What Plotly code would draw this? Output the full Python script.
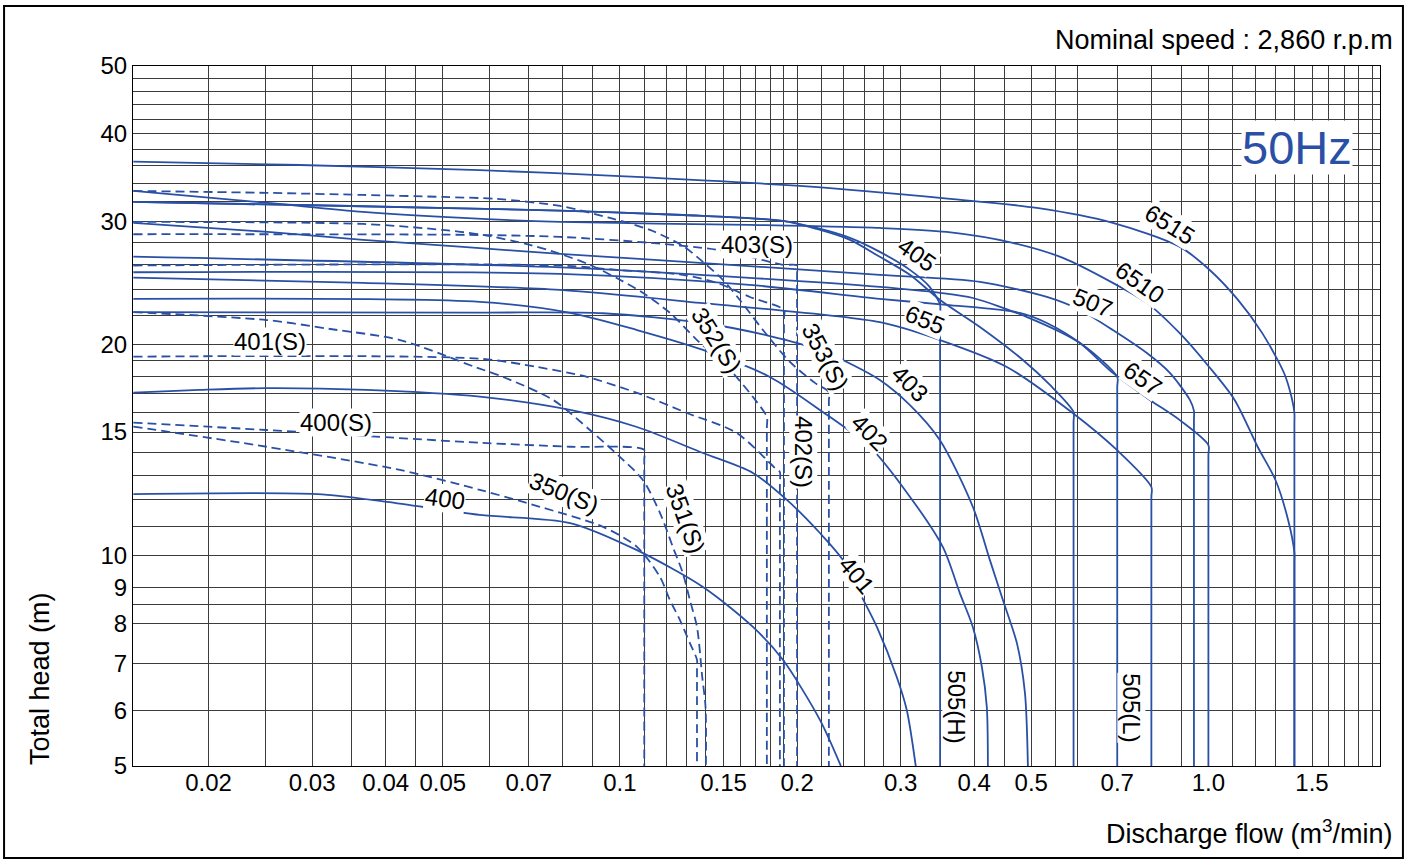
import math
import plotly.graph_objects as go

# ---------------- data (flow m3/min, head m) ----------------
Q_6515 = [0.0149, 0.0286, 0.0578, 0.1, 0.202, 0.364, 0.511, 0.688, 0.893, 1.003, 1.121, 1.233, 1.345, 1.385, 1.4, 1.4, 1.4]
H_6515 = [36.5, 36.1, 35.5, 34.8, 33.7, 32.3, 31.35, 29.85, 27.6, 25.6, 23.2, 20.8, 18.2, 16.8, 15.97, 15.4, 5.0]

Q_6510 = [0.0149, 0.0252, 0.0366, 0.0541, 0.0791, 0.166, 0.2765, 0.359, 0.465, 0.566, 0.688, 0.786, 0.893, 1.003, 1.108, 1.213, 1.3, 1.366, 1.4, 1.4, 1.4]
H_6510 = [33.15, 31.87, 30.94, 30.33, 29.94, 29.65, 29.35, 28.97, 27.95, 26.6, 24.5, 22.94, 20.78, 18.58, 16.67, 14.28, 12.81, 11.23, 10.08, 9.75, 5.0]

Q_507 = [0.0149, 0.0252, 0.0366, 0.0541, 0.0791, 0.1368, 0.2765, 0.409, 0.5315, 0.605, 0.688, 0.786, 0.86, 0.93, 0.945, 0.945, 0.945]
H_507 = [29.84, 28.97, 28.22, 27.58, 26.95, 26.17, 25.16, 24.58, 23.39, 22.41, 20.98, 19.45, 18.22, 16.67, 16.08, 15.6, 5.0]

Q_657 = [0.0149, 0.0791, 0.166, 0.2765, 0.359, 0.478, 0.5315, 0.605, 0.688, 0.7955, 0.893, 1.0, 1.0, 1.0]
H_657 = [25.37, 25.24, 24.34, 23.24, 22.79, 22.2, 21.47, 20.1, 18.22, 16.67, 15.61, 14.37, 13.9, 5.0]

Q_655 = [0.0149, 0.0366, 0.0791, 0.1368, 0.2765, 0.35, 0.4545, 0.588, 0.699, 0.8, 0.8, 0.8]
H_655 = [24.93, 24.5, 23.94, 22.94, 21.53, 20.3, 18.58, 15.97, 14.14, 12.52, 12.1, 5.0]

Q_505L = [0.0149, 0.0791, 0.166, 0.2765, 0.35, 0.398, 0.492, 0.605, 0.7, 0.7, 0.7]
H_505L = [26.71, 25.78, 24.91, 24.18, 23.71, 23.31, 21.89, 20.1, 17.98, 17.4, 5.0]

Q_505H = [0.0149, 0.0348, 0.0791, 0.128, 0.189, 0.216, 0.246, 0.2765, 0.311, 0.336, 0.35, 0.35, 0.35]
H_505H = [31.97, 31.55, 31.07, 30.63, 30.04, 29.35, 28.41, 27.13, 25.57, 24.18, 22.79, 22.1, 5.0]

Q_405 = [0.0149, 0.0348, 0.0791, 0.128, 0.189, 0.216, 0.246, 0.2765, 0.311, 0.35, 0.409, 0.484, 0.538, 0.59, 0.59, 0.59]
H_405 = [31.97, 31.55, 31.07, 30.63, 30.04, 29.25, 28.22, 26.69, 25.16, 23.16, 21.19, 19.01, 17.51, 16.02, 15.5, 5.0]

Q_403 = [0.0149, 0.0578, 0.0936, 0.1384, 0.1798, 0.2187, 0.2488, 0.2765, 0.3108, 0.3496, 0.3978, 0.4252, 0.4475, 0.4727, 0.4878, 0.4935]
H_403 = [22.25, 22.22, 22.17, 21.47, 20.57, 19.65, 18.7, 17.8, 16.4, 14.61, 11.73, 9.85, 8.63, 7.49, 6.36, 5.0]

Q_402 = [0.0149, 0.0578, 0.0823, 0.1069, 0.1384, 0.1798, 0.2187, 0.2659, 0.3024, 0.3537, 0.3781, 0.3978, 0.4121, 0.4202, 0.422]
H_402 = [23.24, 23.01, 22.2, 20.98, 19.65, 17.98, 16.13, 14.28, 12.52, 10.28, 8.83, 7.9, 6.93, 6.07, 5.0]

Q_401 = [0.0149, 0.0193, 0.0251, 0.0371, 0.0578, 0.0823, 0.1069, 0.1384, 0.1683, 0.1922, 0.2187, 0.2392, 0.2557, 0.2733, 0.2954, 0.3072, 0.3182]
H_401 = [17.08, 17.23, 17.33, 17.23, 16.85, 16.13, 15.25, 14.0, 13.11, 12.0, 10.76, 9.85, 8.83, 7.9, 6.7, 6.01, 5.0]

Q_400 = [0.0149, 0.0306, 0.0402, 0.0578, 0.0823, 0.1069, 0.1384, 0.1683, 0.1892, 0.2187, 0.2374]
H_400 = [12.23, 12.23, 11.92, 11.42, 11.12, 10.17, 9.01, 7.9, 7.09, 5.82, 5.0]

Q_353S = [0.0149, 0.0252, 0.0366, 0.05, 0.0618, 0.0791, 0.0962, 0.1125, 0.1279, 0.1384, 0.1496, 0.1599, 0.175, 0.1945, 0.2145, 0.2265, 0.2265, 0.2265]
H_353S = [33.15, 32.94, 32.72, 32.5, 32.29, 31.55, 30.33, 29.16, 27.67, 26.25, 24.75, 23.16, 20.98, 18.89, 17.63, 17.11, 16.6, 5.0]

Q_352S = [0.0149, 0.0366, 0.05, 0.0585, 0.0703, 0.0782, 0.0889, 0.1, 0.1094, 0.1216, 0.1352, 0.1538, 0.1683, 0.1777, 0.1777, 0.1777]
H_352S = [29.94, 29.74, 29.16, 28.69, 27.76, 27.04, 26.0, 24.75, 23.71, 22.2, 20.3, 18.4, 16.83, 15.76, 15.2, 5.0]

Q_403S = [0.0149, 0.0556, 0.0791, 0.1125, 0.1462, 0.1663, 0.1892, 0.2, 0.2, 0.2]
H_403S = [28.75, 28.69, 28.5, 27.95, 27.31, 26.69, 26.0, 25.95, 25.2, 5.0]

Q_402S = [0.0149, 0.0791, 0.0988, 0.1279, 0.1462, 0.1663, 0.19, 0.19, 0.19]
H_402S = [25.94, 25.94, 25.57, 25.16, 24.5, 23.39, 22.41, 21.8, 5.0]

Q_401S = [0.0149, 0.0578, 0.0723, 0.0879, 0.1069, 0.13, 0.158, 0.1834, 0.187, 0.187, 0.187]
H_401S = [19.22, 19.09, 18.58, 17.98, 17.06, 15.97, 14.95, 13.33, 13.15, 12.7, 5.0]

Q_400S = [0.0149, 0.0251, 0.0578, 0.0823, 0.11, 0.11, 0.11]
H_400S = [15.47, 15.1, 14.48, 14.29, 14.14, 13.7, 5.0]

Q_350S = [0.0149, 0.0251, 0.0423, 0.0578, 0.0731, 0.0936, 0.1069, 0.117, 0.1216, 0.1265, 0.1315, 0.1352, 0.1352, 0.1352]
H_350S = [15.27, 14.29, 13.24, 12.4, 11.73, 10.98, 10.28, 9.31, 8.63, 8.08, 7.49, 7.09, 6.9, 5.0]

Q_351S = [0.0149, 0.0251, 0.0322, 0.0423, 0.0567, 0.0633, 0.077, 0.0889, 0.1, 0.1094, 0.117, 0.123, 0.1279, 0.1315, 0.1352, 0.138, 0.1398, 0.14]
H_351S = [22.25, 21.68, 21.05, 20.3, 18.58, 17.98, 16.67, 15.1, 13.82, 12.81, 11.49, 10.28, 9.43, 8.63, 7.9, 6.7, 6.07, 5.0]

# axis ticks / grid values
X_TICKS = [0.02, 0.03, 0.04, 0.05, 0.07, 0.1, 0.15, 0.2, 0.3, 0.4, 0.5, 0.7, 1.0, 1.5]
X_TICK_TEXT = ["0.02", "0.03", "0.04", "0.05", "0.07", "0.1", "0.15", "0.2", "0.3", "0.4", "0.5", "0.7", "1.0", "1.5"]
X_GRID = [0.02, 0.025, 0.03, 0.035, 0.04, 0.045, 0.05, 0.06, 0.07, 0.08, 0.09, 0.1, 0.11, 0.12, 0.13, 0.14,
          0.15, 0.16, 0.17, 0.18, 0.19, 0.2, 0.22, 0.24, 0.26, 0.28, 0.3, 0.35, 0.4, 0.45, 0.5, 0.55, 0.6,
          0.7, 0.8, 0.9, 1.0, 1.1, 1.2, 1.3, 1.4, 1.5, 1.6, 1.7, 1.8, 1.9]
Y_TICKS = [5, 6, 7, 8, 9, 10, 15, 20, 30, 40, 50]
Y_TICK_TEXT = ["5", "6", "7", "8", "9", "10", "15", "20", "30", "40", "50"]
Y_GRID = [5, 6, 7, 8, 8.5, 9, 10, 11, 12, 13, 14, 15, 16, 17, 18, 19, 20, 22, 24, 26, 28, 30,
          32, 34, 36, 38, 40, 42, 44, 46, 48, 50]
X_MIN, X_MAX = 0.01488, 1.957
Y_MIN, Y_MAX = 5, 50

# curve labels: text, flow, head, angle
LABELS = [
    ("6515", 0.86, 29.65, 32), ("6510", 0.765, 24.5, 35), ("507", 0.636, 23.0, 22),
    ("657", 0.774, 17.9, 35), ("655", 0.33, 21.7, 22), ("405", 0.32, 26.9, 35),
    ("403", 0.311, 17.6, 45), ("402", 0.266, 15.0, 45), ("401", 0.253, 9.37, 50),
    ("400", 0.0504, 12.07, 8), ("403(S)", 0.171, 27.76, 0), ("401(S)", 0.0254, 20.17, 0),
    ("400(S)", 0.0329, 15.5, 0), ("350(S)", 0.0803, 12.28, 22), ("351(S)", 0.1294, 11.3, 70),
    ("352(S)", 0.1462, 20.3, 58), ("353(S)", 0.2231, 19.2, 62), ("402(S)", 0.2046, 14.05, 90),
    ("505(H)", 0.3736, 6.07, 90), ("505(L)", 0.741, 6.05, 90),
]

CURVES = [
    ("6515", Q_6515, H_6515, False), ("6510", Q_6510, H_6510, False), ("507", Q_507, H_507, False),
    ("657", Q_657, H_657, False), ("655", Q_655, H_655, False), ("505(L)", Q_505L, H_505L, False),
    ("505(H)", Q_505H, H_505H, False), ("405", Q_405, H_405, False), ("403", Q_403, H_403, False),
    ("402", Q_402, H_402, False), ("401", Q_401, H_401, False), ("400", Q_400, H_400, False),
    ("353(S)", Q_353S, H_353S, True), ("352(S)", Q_352S, H_352S, True), ("403(S)", Q_403S, H_403S, True),
    ("402(S)", Q_402S, H_402S, True), ("401(S)", Q_401S, H_401S, True), ("400(S)", Q_400S, H_400S, True),
    ("350(S)", Q_350S, H_350S, True), ("351(S)", Q_351S, H_351S, True),
]

BLUE = "#2a50a6"
GRID = "#3c3c3c"
FONT = "Liberation Sans, Arial, sans-serif"

fig = go.Figure()
for name, q, h, dashed in CURVES:
    fig.add_trace(go.Scatter(
        x=q, y=h, mode="lines", name=name, showlegend=False,
        line=dict(color=BLUE, width=1.8, dash="9px,5px" if dashed else "solid",
                  shape="spline", smoothing=0.8),
    ))

for text, q, h, ang in LABELS:
    fig.add_annotation(x=math.log10(q), y=math.log10(h), xref="x", yref="y", text=text,
                       textangle=ang, showarrow=False, bgcolor="white", borderpad=0,
                       xanchor="center", yanchor="middle",
                       font=dict(size=24, color="black", family=FONT))

# chart furniture
fig.add_annotation(xref="paper", yref="paper", x=0.9334, y=0.884, xanchor="center", yanchor="middle",
                   text="50Hz", showarrow=False, bgcolor="white", borderpad=0,
                   font=dict(size=47, color=BLUE, family=FONT))
fig.add_annotation(xref="paper", yref="paper", x=1.012, y=1.037, xanchor="right", yanchor="middle",
                   text="Nominal speed : 2,860 r.p.m", showarrow=False,
                   font=dict(size=27, color="black", family=FONT))
fig.add_annotation(xref="paper", yref="paper", x=1.012, y=-0.094, xanchor="right", yanchor="middle",
                   text="Discharge flow (m<sup>3</sup>/min)", showarrow=False,
                   font=dict(size=27, color="black", family=FONT))
fig.add_annotation(xref="paper", yref="paper", x=-0.0746, y=0.1257, xanchor="center", yanchor="middle",
                   textangle=-90, text="Total head (m)", showarrow=False,
                   font=dict(size=27, color="black", family=FONT))
fig.add_shape(type="rect", xref="paper", yref="paper", x0=-0.1034, x1=1.0184, y0=-0.1314, y1=1.0857,
              line=dict(color="black", width=2))

axis_common = dict(
    type="log", showgrid=True, gridcolor=GRID, gridwidth=1, ticks="", showline=True,
    linecolor="black", linewidth=1, mirror=True, zeroline=False, tickmode="array",
    tickfont=dict(size=24, color="black", family=FONT), automargin=False,
)
fig.update_layout(
    template="none",
    width=1414, height=859,
    margin=dict(l=133, r=34, t=66, b=93, pad=0),
    paper_bgcolor="white", plot_bgcolor="white",
    font=dict(family=FONT, size=24, color="black"),
    showlegend=False,
    xaxis=dict(axis_common, range=[math.log10(X_MIN), math.log10(X_MAX)],
               tickvals=X_TICKS, ticktext=X_TICK_TEXT, ticklabelstandoff=-5,
               minor=dict(tickmode="array", tickvals=X_GRID, showgrid=True, gridcolor=GRID,
                          gridwidth=1, ticks="")),
    yaxis=dict(axis_common, range=[math.log10(Y_MIN), math.log10(Y_MAX)],
               tickvals=Y_TICKS, ticktext=Y_TICK_TEXT,
               minor=dict(tickmode="array", tickvals=Y_GRID, showgrid=True, gridcolor=GRID,
                          gridwidth=1, ticks="")),
)

fig.write_html("out.html", config={"displayModeBar": False},
               post_script="document.body.style.margin='0';document.body.style.overflow='hidden';")
